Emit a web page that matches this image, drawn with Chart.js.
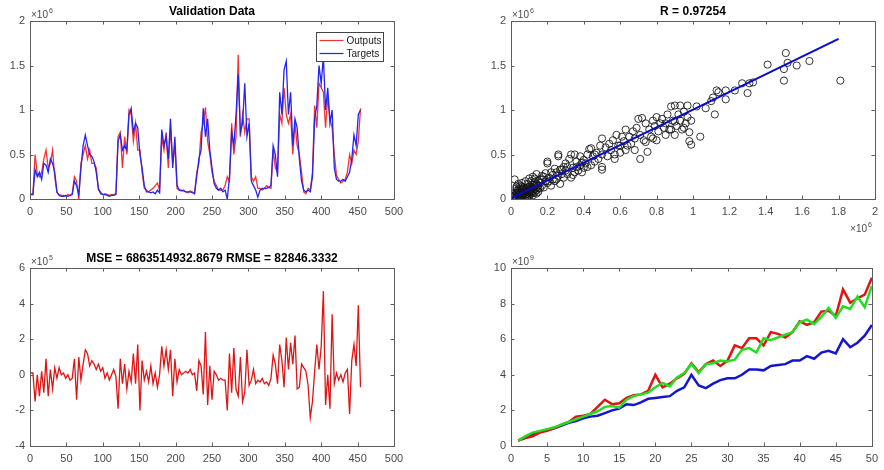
<!DOCTYPE html>
<html>
<head>
<meta charset="utf-8">
<script src="https://cdn.jsdelivr.net/npm/chart.js@4/dist/chart.umd.min.js"></script>
<style>
  html, body { margin: 0; padding: 0; background: #fff; }
  #wrap { position: relative; width: 884px; height: 470px; overflow: hidden; background: #fff; }
  #wrap canvas { position: absolute; }
</style>
</head>
<body>
<div id="wrap">
  <canvas id="cVal"  width="442" height="235" style="left:0;top:0"></canvas>
  <canvas id="cReg"  width="442" height="235" style="left:442px;top:0"></canvas>
  <canvas id="cErr"  width="442" height="235" style="left:0;top:235px"></canvas>
  <canvas id="cPerf" width="442" height="235" style="left:442px;top:235px"></canvas>
</div>
<script>
// ---------- data ----------
// Validation set, values in units of 1e6 (axis carries the x10^6 multiplier)
const targets = [
  0.05,0.05,0.33,0.25,0.30,0.22,0.40,0.38,0.30,0.45,
  0.40,0.30,0.08,0.04,0.03,0.03,0.04,0.03,0.04,0.05,
  0.20,0.15,0.05,0.35,0.60,0.72,0.60,0.50,0.48,0.42,
  0.30,0.12,0.06,0.05,0.05,0.04,0.03,0.04,0.04,0.05,
  0.65,0.72,0.55,0.60,0.55,0.95,1.02,0.75,0.85,0.80,
  0.50,0.35,0.15,0.08,0.08,0.07,0.08,0.06,0.10,0.07,
  0.78,0.60,0.70,0.45,0.90,0.35,0.70,0.15,0.10,0.10,
  0.09,0.08,0.08,0.08,0.07,0.06,0.25,0.45,0.55,1.02,
  0.70,0.90,0.55,0.35,0.17,0.12,0.10,0.12,0.08,0.10,
  0.00,0.25,0.75,0.60,0.95,1.40,0.75,0.85,1.30,0.70,
  0.85,0.20,0.15,0.10,0.02,0.10,0.12,0.12,0.12,0.13,
  0.15,0.60,0.50,0.25,1.20,0.95,1.45,1.55,0.95,1.20,
  0.60,0.90,0.80,0.45,0.20,0.10,0.08,0.10,0.08,0.25,
  0.90,1.05,1.50,1.30,1.60,1.00,1.25,0.85,1.00,0.35,
  0.22,0.20,0.20,0.22,0.20,0.25,0.30,0.45,0.72,0.60,
  0.95,1.00
];
const outputs = [
  0.06,0.05,0.50,0.28,0.25,0.30,0.45,0.55,0.35,0.40,
  0.55,0.25,0.07,0.05,0.04,0.04,0.03,0.05,0.04,0.06,
  0.25,0.20,0.00,0.40,0.50,0.60,0.45,0.55,0.40,0.40,
  0.35,0.10,0.08,0.05,0.06,0.05,0.04,0.05,0.05,0.06,
  0.70,0.75,0.35,0.70,0.50,1.00,0.95,0.65,0.85,0.55,
  0.55,0.30,0.12,0.10,0.08,0.10,0.12,0.15,0.18,0.10,
  0.70,0.55,0.75,0.35,0.80,0.40,0.60,0.12,0.10,0.09,
  0.10,0.08,0.07,0.09,0.08,0.06,0.30,0.40,0.75,0.85,
  1.03,0.65,0.50,0.30,0.20,0.15,0.10,0.10,0.10,0.15,
  0.25,0.20,0.85,0.50,0.70,1.62,0.70,0.95,0.75,0.90,
  0.90,0.25,0.20,0.25,0.12,0.12,0.10,0.12,0.15,0.13,
  0.12,0.55,0.35,0.30,0.95,0.85,1.25,0.95,0.85,0.95,
  0.50,0.85,0.60,0.50,0.30,0.08,0.06,0.12,0.10,0.30,
  1.05,0.80,1.30,1.25,1.20,0.80,1.15,0.90,0.80,0.50,
  0.27,0.22,0.18,0.20,0.22,0.30,0.50,0.40,0.55,0.50,
  0.65,1.02
];
// Prediction error, units of 1e5
const errors = [
  0.1,0.1,-1.5,0.0,-1.2,0.2,-1.0,0.9,-1.2,0.3,
  -0.8,0.4,-0.2,0.4,0.0,0.1,-0.2,0.0,-0.3,-0.2,
  0.9,-1.4,1.0,-0.3,0.6,1.4,1.2,0.5,0.8,0.6,
  0.3,0.6,0.2,0.4,-0.2,0.1,-0.3,0.0,0.3,-0.1,
  -1.9,0.9,-0.5,0.6,-0.8,0.2,-0.4,1.2,-0.5,1.7,
  -2.0,0.8,-0.3,0.2,-0.4,0.5,-0.5,0.1,-0.7,0.0,
  1.6,0.5,1.4,0.3,1.4,-1.2,0.9,-0.4,0.3,0.0,
  0.1,0.2,0.1,0.3,0.0,0.1,-0.9,0.8,0.5,-1.1,
  2.4,-1.7,0.5,-1.4,0.2,0.0,-0.3,-0.2,-0.3,-0.3,
  -2.0,1.2,-1.0,1.5,-0.8,-1.2,1.0,-1.5,-1.0,1.4,
  -0.6,-0.3,0.3,-0.5,-0.3,-0.4,-0.2,-0.5,-0.4,-0.6,
  -0.2,1.1,0.6,-0.5,1.7,0.8,-0.7,2.1,0.3,1.8,
  0.6,2.2,-0.8,-0.7,0.6,0.4,0.2,-0.6,-2.4,-1.5,
  0.2,1.7,0.3,1.6,4.7,-1.7,0.0,-1.9,3.4,-0.5,
  0.1,-0.3,0.0,-0.4,0.1,0.3,-2.2,0.8,1.7,0.5,
  3.9,-0.7
];
// sample numbers of the validation points (every third sample)
const sampleIdx = [];
for (let t = 1; t <= 454; t += 3) sampleIdx.push(t);

// Regression: [target, output] pairs in units of 1e6
const scatterPairs = [
  [0.01,0.02],[0.02,0.03],[0.02,0.01],[0.03,0.05],[0.03,0.02],[0.04,0.04],[0.04,0.07],[0.05,0.03],[0.05,0.06],[0.05,0.09],
  [0.06,0.05],[0.06,0.02],[0.06,0.08],[0.07,0.06],[0.07,0.10],[0.07,0.04],[0.08,0.07],[0.08,0.12],[0.08,0.05],[0.09,0.09],
  [0.09,0.03],[0.09,0.13],[0.10,0.08],[0.10,0.11],[0.10,0.01],[0.11,0.10],[0.11,0.14],[0.11,0.06],[0.12,0.12],[0.12,0.09],
  [0.12,0.16],[0.13,0.11],[0.13,0.07],[0.13,0.19],[0.14,0.13],[0.14,0.10],[0.15,0.15],[0.15,0.20],[0.15,0.08],[0.02,0.22],
  [0.04,0.17],[0.03,0.12],[0.06,0.14],[0.08,0.20],[0.10,0.23],[0.12,0.25],[0.14,0.28],[0.05,0.00],[0.07,0.00],[0.09,0.01],
  [0.12,0.04],[0.01,0.06],[0.03,0.09],
  [0.02,0.04],[0.03,0.07],[0.04,0.02],[0.04,0.10],[0.05,0.12],[0.06,0.11],[0.07,0.08],[0.07,0.13],[0.08,0.09],[0.08,0.03],
  [0.09,0.06],[0.09,0.11],[0.10,0.05],[0.10,0.14],[0.11,0.08],[0.11,0.12],[0.12,0.07],[0.13,0.14],[0.13,0.16],[0.14,0.06],
  [0.14,0.17],[0.15,0.12],[0.16,0.22],[0.05,0.15],[0.06,0.18],[0.03,0.14],[0.09,0.17],[0.11,0.20],[0.13,0.23],[0.17,0.26],
  [0.16,0.18],[0.16,0.12],[0.17,0.22],[0.17,0.15],[0.18,0.25],[0.18,0.13],[0.19,0.20],[0.19,0.29],[0.20,0.42],[0.20,0.40],
  [0.20,0.18],[0.21,0.24],[0.22,0.30],[0.22,0.15],[0.23,0.27],[0.24,0.20],[0.24,0.34],[0.25,0.30],[0.25,0.22],[0.26,0.48],
  [0.26,0.50],[0.27,0.17],[0.27,0.33],[0.28,0.28],[0.29,0.36],[0.29,0.24],[0.30,0.32],[0.30,0.40],[0.31,0.28],[0.32,0.45],
  [0.33,0.50],[0.33,0.24],[0.34,0.35],[0.35,0.50],[0.35,0.30],[0.36,0.42],[0.37,0.32],[0.38,0.48],[0.38,0.38],[0.39,0.30],
  [0.40,0.35],[0.40,0.44],[0.41,0.40],[0.42,0.50],[0.43,0.56],[0.44,0.57],[0.44,0.38],[0.45,0.48],[0.46,0.42],[0.47,0.52],
  [0.48,0.45],[0.49,0.60],[0.50,0.33],[0.50,0.36],[0.50,0.68],[0.50,0.50],
  [0.21,0.20],[0.23,0.22],[0.26,0.26],[0.28,0.33],[0.31,0.36],[0.34,0.27],[0.36,0.36],[0.39,0.41],[0.42,0.36],[0.46,0.50],
  [0.52,0.58],[0.53,0.48],[0.54,0.62],[0.55,0.55],[0.56,0.66],[0.57,0.45],[0.57,0.50],[0.58,0.72],[0.59,0.60],[0.60,0.60],
  [0.60,0.52],[0.61,0.70],[0.62,0.65],[0.63,0.78],[0.63,0.55],[0.64,0.60],[0.65,0.70],[0.66,0.62],[0.67,0.76],[0.68,0.55],
  [0.68,0.68],[0.69,0.80],[0.70,0.90],[0.71,0.45],[0.71,0.72],[0.72,0.91],[0.73,0.66],[0.74,0.85],[0.74,0.64],[0.75,0.53],
  [0.76,0.78],[0.77,0.70],[0.78,0.68],[0.78,0.88],[0.79,0.82],[0.80,0.66],[0.80,0.92],[0.81,0.76],[0.82,0.85],[0.83,0.90],
  [0.84,0.80],[0.85,0.85],[0.85,0.72],[0.86,0.95],[0.87,0.78],[0.88,1.04],[0.88,0.78],[0.89,0.88],[0.90,1.05],[0.90,0.72],
  [0.90,0.87],[0.91,0.82],[0.92,0.95],[0.93,0.88],[0.93,1.05],[0.94,0.78],[0.95,0.98],[0.95,0.80],[0.96,0.85],[0.97,1.05],
  [0.97,0.92],[0.98,0.75],[0.98,0.65],[0.99,0.61],[0.99,0.88],
  [1.02,1.04],[1.04,0.70],[1.07,1.02],[1.10,1.10],[1.11,1.14],[1.12,0.95],[1.13,1.22],[1.14,1.20],[1.18,1.22],[1.18,1.12],
  [1.23,1.22],[1.27,1.30],[1.30,1.19],[1.31,1.30],[1.33,1.31],[1.41,1.51],[1.50,1.33],[1.50,1.46],[1.51,1.64],[1.52,1.53],
  [1.57,1.50],[1.64,1.55],[1.81,1.33]
];
// Fitted line end points (units of 1e6)
const fitX = [0.00, 1.80];
const fitY = [0.01, 1.80];

// Per-epoch curves, units of 1e9
const curveRed = [
  0.30,0.45,0.55,0.75,0.85,1.00,1.20,1.35,1.65,1.70,
  1.80,2.20,2.60,2.35,2.40,2.70,2.85,2.90,3.10,4.00,
  3.30,3.50,3.80,4.05,4.65,4.15,4.60,4.80,4.50,4.80,
  5.65,5.50,6.05,6.05,5.65,6.40,6.30,6.10,6.40,7.00,
  6.80,6.95,7.55,7.60,7.30,8.80,8.05,8.30,8.50,9.45
];
const curveGreen = [
  0.30,0.55,0.75,0.85,0.95,1.05,1.20,1.35,1.50,1.65,
  1.80,1.95,2.20,2.25,2.15,2.60,2.80,2.90,3.00,3.30,
  3.55,3.35,3.85,4.10,4.60,4.10,4.60,4.65,4.80,4.75,
  4.85,5.40,5.50,5.25,6.05,5.95,6.10,6.25,6.40,6.95,
  7.10,6.85,7.25,7.75,7.20,7.85,7.70,8.40,7.80,9.00
];
const curveBlue = [
  0.30,0.50,0.65,0.80,0.90,1.00,1.15,1.30,1.40,1.55,
  1.65,1.70,1.85,2.00,2.10,2.35,2.30,2.45,2.65,2.70,
  2.75,2.80,3.10,3.30,4.00,3.40,3.25,3.50,3.70,3.80,
  3.80,4.00,4.30,4.30,4.25,4.50,4.55,4.60,4.80,4.80,
  5.05,4.90,5.25,5.35,5.20,6.00,5.55,5.80,6.20,6.80
];
const epochs = [];
for (let e = 1; e <= curveRed.length; e++) epochs.push(e);

// ---------- styling helpers ----------
const FAMILY = '"Liberation Sans", Arial, Helvetica, sans-serif';
const TICK_COLOR = '#4a4a4a';
const AXIS_COLOR = '#5c5c5c';

const fmt = v => String(+Number(v).toFixed(4));
const pts = (xs, ys) => xs.map((x, i) => ({ x, y: ys[i] }));

function xAxis(min, max, step) {
  return {
    type: 'linear', min, max,
    ticks: { stepSize: step, autoSkip: false, maxRotation: 0, padding: 6,
             color: TICK_COLOR, font: { family: FAMILY, size: 11 }, callback: fmt },
    grid: { display: false, drawTicks: false },
    border: { display: false },
    afterFit(s) { s.height = 20; }
  };
}
function yAxis(min, max, step) {
  return {
    type: 'linear', min, max,
    ticks: { stepSize: step, autoSkip: false, padding: 5,
             color: TICK_COLOR, font: { family: FAMILY, size: 11 }, callback: fmt },
    grid: { display: false, drawTicks: false },
    border: { display: false },
    afterFit(s) { s.width = 30; }
  };
}
function title(text, padTop, padBottom) {
  return {
    display: true, text, fullSize: false, color: '#000',
    font: { family: FAMILY, size: 12, weight: 'bold', lineHeight: 1 },
    padding: { top: padTop, bottom: padBottom }
  };
}

// x10^n multiplier label
function drawExp(ctx, x, y, exp, align) {
  ctx.save();
  ctx.fillStyle = TICK_COLOR;
  ctx.textBaseline = 'alphabetic';
  ctx.textAlign = 'left';
  ctx.font = '10px ' + FAMILY;
  const base = '\u00d710';
  const w1 = ctx.measureText(base).width;
  ctx.font = '7px ' + FAMILY;
  const w2 = ctx.measureText(exp).width;
  const x0 = align === 'right' ? x - w1 - w2 - 1 : x;
  ctx.font = '10px ' + FAMILY;
  ctx.fillText(base, x0, y);
  ctx.font = '7px ' + FAMILY;
  ctx.fillText(exp, x0 + w1 + 1, y - 5);
  ctx.restore();
}

// Box frame, inward tick marks, multipliers and legend
const boxAxes = {
  id: 'boxAxes',
  afterDraw(chart, args, opts) {
    const ctx = chart.ctx, a = chart.chartArea;
    const xs = chart.scales.x, ys = chart.scales.y;
    const L = 3.5;
    ctx.save();
    ctx.strokeStyle = AXIS_COLOR;
    ctx.lineWidth = 1;
    ctx.beginPath();
    xs.ticks.forEach(t => {
      const p = Math.round(xs.getPixelForValue(t.value)) + 0.5;
      ctx.moveTo(p, a.bottom); ctx.lineTo(p, a.bottom - L);
      ctx.moveTo(p, a.top); ctx.lineTo(p, a.top + L);
    });
    ys.ticks.forEach(t => {
      const p = Math.round(ys.getPixelForValue(t.value)) + 0.5;
      ctx.moveTo(a.left, p); ctx.lineTo(a.left + L, p);
      ctx.moveTo(a.right, p); ctx.lineTo(a.right - L, p);
    });
    ctx.stroke();
    ctx.strokeRect(Math.round(a.left) + 0.5, Math.round(a.top) + 0.5,
                   Math.round(a.right - a.left), Math.round(a.bottom - a.top));
    ctx.restore();

    if (opts.expY) drawExp(ctx, a.left + 1, a.top - 3, opts.expY, 'left');
    if (opts.expX) drawExp(ctx, a.right - 3, a.bottom + 33, opts.expX, 'right');

    if (opts.legend) {
      const bw = 67, bh = 29;
      const bx = Math.round(a.right - 11 - bw) + 0.5, by = Math.round(a.top + 11) + 0.5;
      ctx.save();
      ctx.fillStyle = '#fff';
      ctx.fillRect(bx, by, bw, bh);
      ctx.strokeStyle = '#444';
      ctx.lineWidth = 1;
      ctx.strokeRect(bx, by, bw, bh);
      ctx.font = '10px ' + FAMILY;
      ctx.textBaseline = 'middle';
      ctx.textAlign = 'left';
      opts.legend.forEach((label, i) => {
        const ds = chart.data.datasets.find(d => d.label === label);
        const ly = by + 8 + i * 13;
        ctx.strokeStyle = ds.borderColor;
        ctx.lineWidth = 1.2;
        ctx.beginPath();
        ctx.moveTo(bx + 3, ly); ctx.lineTo(bx + 27, ly);
        ctx.stroke();
        ctx.fillStyle = '#222';
        ctx.fillText(label, bx + 30, ly + 0.5);
      });
      ctx.restore();
    }
  }
};
Chart.register(boxAxes);

const common = {
  responsive: false,
  animation: false,
  devicePixelRatio: 1,
  events: []
};

// ---------- Validation Data ----------
new Chart(document.getElementById('cVal'), {
  type: 'scatter',
  data: {
    datasets: [
      { label: 'Targets', data: pts(sampleIdx, targets), showLine: true, pointRadius: 0,
        borderColor: '#2424f2', borderWidth: 1.3, order: 0 },
      { label: 'Outputs', data: pts(sampleIdx, outputs), showLine: true, pointRadius: 0,
        borderColor: '#f23434', borderWidth: 1.3, order: 1 }
    ]
  },
  options: Object.assign({}, common, {
    layout: { padding: { left: 0, top: 0, right: 48, bottom: 16 } },
    scales: { x: xAxis(0, 500, 50), y: yAxis(0, 2, 0.5) },
    plugins: {
      legend: { display: false }, tooltip: { enabled: false },
      title: title('Validation Data', 5.5, 3.5),
      boxAxes: { expY: '6', legend: ['Outputs', 'Targets'] }
    }
  })
});

// ---------- Regression ----------
new Chart(document.getElementById('cReg'), {
  type: 'scatter',
  data: {
    datasets: [
      { label: 'Fit', data: pts(fitX, fitY), showLine: true, pointRadius: 0,
        borderColor: '#0a0ad0', borderWidth: 2, order: 0 },
      { label: 'Data', data: scatterPairs.map(p => ({ x: p[0], y: p[1] })),
        pointRadius: 3.6, borderWidth: 1, pointStyle: 'circle',
        borderColor: 'rgba(20,20,20,0.85)', backgroundColor: 'rgba(0,0,0,0)', order: 1 }
    ]
  },
  options: Object.assign({}, common, {
    layout: { padding: { left: 39, top: 0, right: 7, bottom: 16 } },
    scales: { x: xAxis(0, 2, 0.2), y: yAxis(0, 2, 0.5) },
    plugins: {
      legend: { display: false }, tooltip: { enabled: false },
      title: title('R = 0.97254', 5.5, 3.5),
      boxAxes: { expY: '6', expX: '6' }
    }
  })
});

// ---------- Error ----------
new Chart(document.getElementById('cErr'), {
  type: 'scatter',
  data: {
    datasets: [
      { label: 'Error', data: pts(sampleIdx, errors), showLine: true, pointRadius: 0,
        borderColor: '#e01414', borderWidth: 1.3 }
    ]
  },
  options: Object.assign({}, common, {
    layout: { padding: { left: 0, top: 0, right: 48, bottom: 4 } },
    scales: { x: xAxis(0, 500, 50), y: yAxis(-4, 6, 2) },
    plugins: {
      legend: { display: false }, tooltip: { enabled: false },
      title: title('MSE = 6863514932.8679 RMSE = 82846.3332', 18, 3),
      boxAxes: { expY: '5' }
    }
  })
});

// ---------- Per-epoch curves ----------
new Chart(document.getElementById('cPerf'), {
  type: 'scatter',
  data: {
    datasets: [
      { label: 'Green', data: pts(epochs, curveGreen), showLine: true, pointRadius: 0,
        borderColor: '#22dd22', borderWidth: 2.5, order: 0 },
      { label: 'Red', data: pts(epochs, curveRed), showLine: true, pointRadius: 0,
        borderColor: '#dd1515', borderWidth: 2.5, order: 1 },
      { label: 'Blue', data: pts(epochs, curveBlue), showLine: true, pointRadius: 0,
        borderColor: '#1515cc', borderWidth: 2.5, order: 2 }
    ]
  },
  options: Object.assign({}, common, {
    layout: { padding: { left: 39, top: 33, right: 7, bottom: 4 } },
    scales: { x: xAxis(0, 50, 5), y: yAxis(0, 10, 2) },
    plugins: {
      legend: { display: false }, tooltip: { enabled: false },
      title: { display: false },
      boxAxes: { expY: '9' }
    }
  })
});
</script>
</body>
</html>
